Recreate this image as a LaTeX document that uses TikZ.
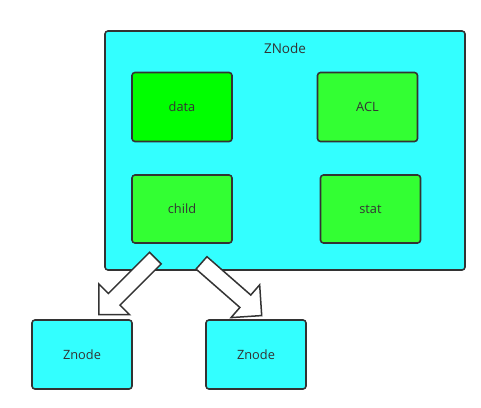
\documentclass[tikz,border=0pt]{standalone}
\usepackage{fontspec}
\setmainfont{Open Sans}
\usetikzlibrary{shapes.arrows}
\definecolor{zcyan}{HTML}{33FFFF}
\definecolor{zgreen}{HTML}{33FF33}
\definecolor{zlime}{HTML}{00FF00}
\definecolor{zline}{HTML}{333333}
\tikzset{
	box/.style={draw=zline, line width=1.6pt, rounded corners=3pt, inner sep=0pt,
		font=\fontsize{12.8pt}{15pt}\selectfont, text=zline},
	part/.style={box, fill=zgreen, minimum width=100pt, minimum height=69pt},
	znode/.style={box, fill=zcyan, minimum width=100pt, minimum height=69pt},
	blockarrow/.style={single arrow, draw=zline, fill=white, line width=1.5pt,
		inner sep=0pt, inner ysep=7.5pt, text height=0pt, text depth=0pt,
		minimum height=80pt, single arrow head extend=13.5pt},
}

\begin{document}
\begin{tikzpicture}[x=1pt,y=-1pt]
\useasboundingbox (0,0) rectangle (481,407);
\node[box, fill=zcyan, minimum width=360pt, minimum height=239pt] (zn) at (285,150.5) {};
\node[font=\fontsize{13.5pt}{16pt}\selectfont, text=zline] (znlabel) at (285,48) {ZNode};
\node[part, fill=zlime] (data) at (182,107) {data};
\node[part] (acl) at (367.5,107) {ACL};
\node[part, minimum height=68pt] (child) at (182,209) {child};
\node[part, minimum height=68pt] (stat) at (370.5,209) {stat};
\node[znode] (zleft) at (82,354.5) {Znode};
\node[znode] (zright) at (256,354.5) {Znode};
% arrows from child to the two Znodes
\node[blockarrow, rotate=-135] (toleft) at (130,283.5) {};
\node[blockarrow, rotate=-41.2] (toright) at (228.5,286.5) {};
\end{tikzpicture}
\end{document}
